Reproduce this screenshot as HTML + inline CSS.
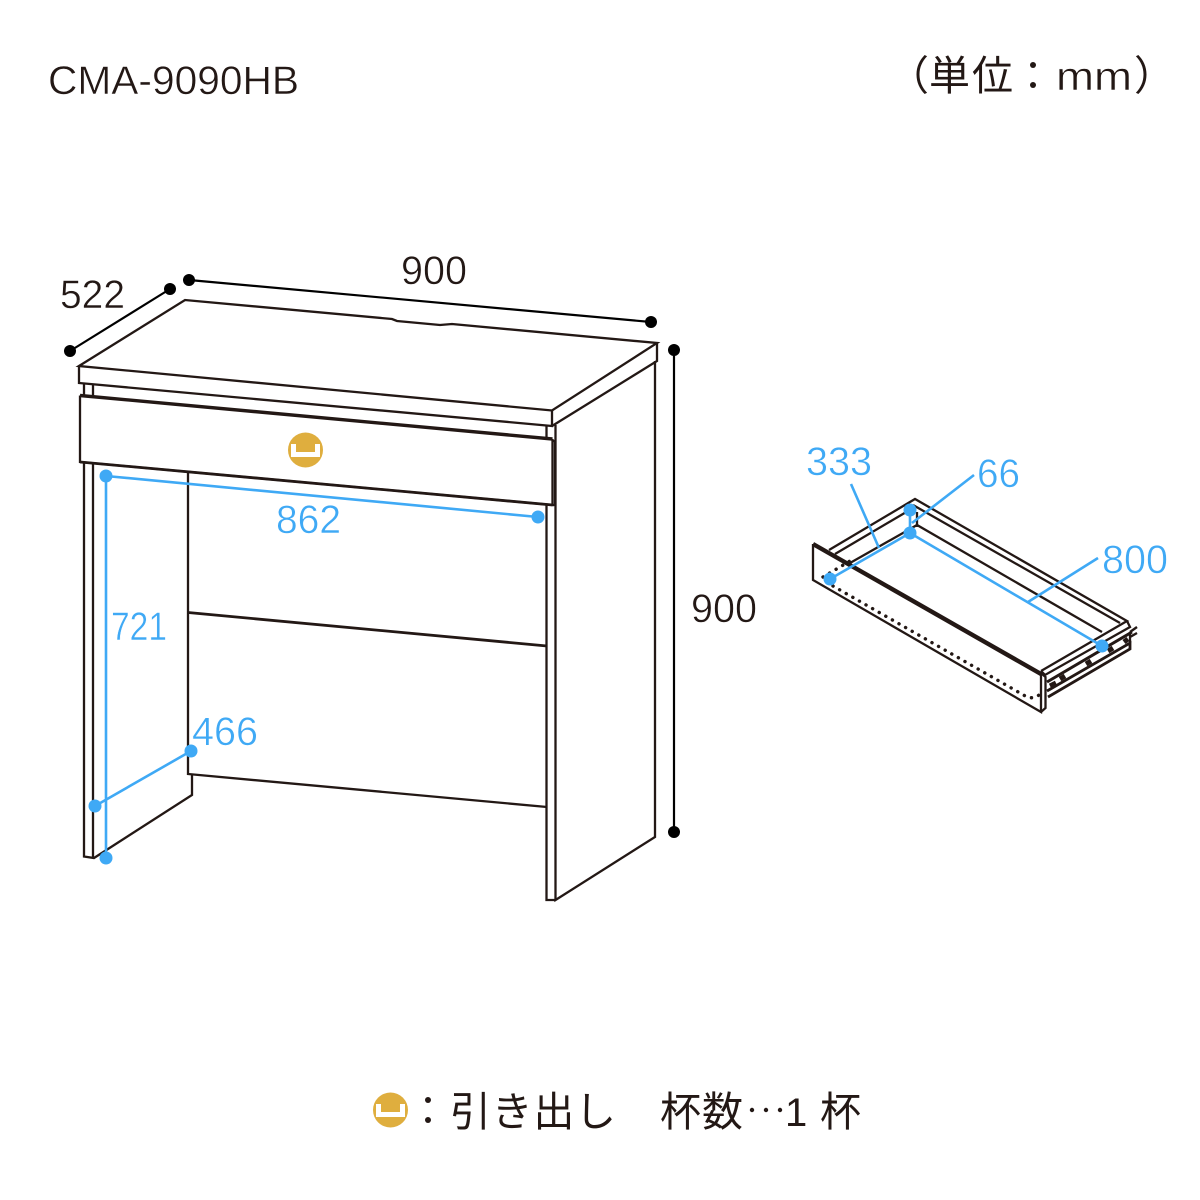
<!DOCTYPE html>
<html lang="ja"><head><meta charset="utf-8"><style>
html,body{margin:0;padding:0;background:#fff}
svg{display:block}
text{font-family:"Liberation Sans","Noto Sans CJK JP",sans-serif;font-size:40px;fill:#231815}
.n{stroke:#fff;stroke-width:.5px}
.b{fill:#3fa9f5;font-size:40px;stroke:#fff;stroke-width:.5px}
.j{font-size:41px}
.l{fill:none;stroke:#231815;stroke-width:2.300px;stroke-linejoin:miter}
.t{fill:none;stroke:#3fa9f5;stroke-width:2.600px}
</style></head><body>
<svg width="1200" height="1200" viewBox="0 0 1200 1200" xmlns="http://www.w3.org/2000/svg">
<rect width="1200" height="1200" fill="#fff"/>
<text class="n" x="48" y="94" textLength="251" lengthAdjust="spacingAndGlyphs">CMA-9090HB</text>
<text class="j" x="888" y="90">（</text>
<text class="j" x="929" y="90" textLength="84">単位</text>
<circle cx="1033" cy="65" r="3" fill="#231815"/><circle cx="1033" cy="85" r="3" fill="#231815"/>
<text class="n" x="1056" y="90" textLength="76" lengthAdjust="spacingAndGlyphs">mm</text>
<text class="j" x="1134" y="90">）</text>

<g class="l">
<path d="M79 366 L185 300 L392 319 L397 321 L440 325 L452 324 L657 343 L552 410.500 Z"/>
<path d="M79 366 V383 L552 426 V410.500"/>
<path d="M552 426 L657 361 V343"/>
<path d="M655 361 V837 L555.500 900 V425"/>
<path d="M546.500 426 V438 M546.500 505 V900 H555.500"/>
<path d="M84 383 V396 M93 385 V397"/>
<path d="M84 462 V856.500 L94 858 L192 795 V775"/>
<path d="M93 463 V858"/>
<path d="M188 473 V774 L547 807"/>
<path d="M80 395.500 V462 L552.500 505 V439"/>
<path d="M552.500 441 H555 V505 L552.500 505"/>
<path d="M80 395.500 L552.500 439" style="stroke-width:3.400px"/>
<path d="M80 462 L552.500 505" style="stroke-width:2.800px"/>
<path d="M188 612.500 L547 646" style="stroke-width:2.800px"/>
</g>

<path d="M70 351 L170 289 M189 280 L651 322 M674 350 V832" fill="none" stroke="#000" stroke-width="2.200"/>
<g fill="#000"><circle cx="70" cy="351" r="6"/><circle cx="170" cy="289" r="6"/><circle cx="189" cy="280" r="6"/><circle cx="651" cy="322" r="6"/><circle cx="674" cy="350" r="6"/><circle cx="674" cy="832" r="6"/></g>
<text class="n" x="60" y="308" textLength="65" lengthAdjust="spacingAndGlyphs">522</text>
<text class="n" x="401" y="284" textLength="66" lengthAdjust="spacingAndGlyphs">900</text>
<text class="n" x="691" y="622" textLength="66" lengthAdjust="spacingAndGlyphs">900</text>

<circle cx="305.500" cy="450" r="17.500" fill="#dfae3e"/>
<path d="M291 444 H296 V452 H315 V444 H320 V457 H291 Z" fill="#fff"/>

<g class="t"><path d="M106 476 L538 517 M106 476 V858 M95 806 L191 751"/></g>
<g fill="#3fa9f5"><circle cx="106" cy="476" r="6.500"/><circle cx="538" cy="517" r="6.500"/><circle cx="106" cy="858" r="6.500"/><circle cx="95" cy="806" r="6.500"/><circle cx="191" cy="751" r="6.500"/></g>
<text class="b" x="276" y="533" textLength="65" lengthAdjust="spacingAndGlyphs">862</text>
<text class="b" x="111" y="640" textLength="56" lengthAdjust="spacingAndGlyphs">721</text>
<text class="b" x="192" y="745" textLength="66" lengthAdjust="spacingAndGlyphs">466</text>

<!-- drawer -->
<g class="l">
<path d="M813 544 V580 L1041 712 V673"/>
<path d="M1041 712 L1045.500 708 V677 L1041 673"/>
<path d="M829 550 L915 499 L1127 621 L1041 671"/>
<path d="M835 554 L908 511 M913 505 L1120 623"/>
<path d="M850 563 L910 529 L917 525 L1102 632"/>
<path d="M917 512 V527"/>
<path d="M1127 621 L1130 627 L1045 675 L1041 671"/>
<path d="M1047 682 L1132 632" style="stroke-width:3px"/>
<path d="M1047 691 L1130 643 V649 L1048 697" style="stroke-width:2.800px"/>
<path d="M1130 632 L1137 627 M1130 637 L1137 633" style="stroke-width:2.400px"/>
<path d="M1130 632 V643"/>
</g>
<path d="M1050 686 L1056 683 M1060 679 L1065 676 M1086 664 L1091 661 M1108 651 L1113 648 M1124 642 L1128 639" fill="none" stroke="#231815" stroke-width="5"/>
<path d="M813 544 L1041 674" fill="none" stroke="#231815" stroke-width="4.400"/>
<path d="M823 577 L850 561 M833 586 L1027 697 Q1036 700 1043 691" fill="none" stroke="#231815" stroke-width="3.400" stroke-linecap="round" stroke-dasharray="0.100 7.500"/>
<g class="t"><path d="M830 579 L910 533 L1102 646 M910 510 V533 M851 484 L879 548 M974 475 L912 523 M1098 558 L1028 602"/></g>
<g fill="#3fa9f5"><circle cx="830" cy="579" r="6.500"/><circle cx="910" cy="533" r="6.500"/><circle cx="910" cy="510" r="6.500"/><circle cx="1102" cy="646" r="6.500"/></g>
<text class="b" x="806" y="475" textLength="66" lengthAdjust="spacingAndGlyphs">333</text>
<text class="b" x="977" y="487" textLength="43" lengthAdjust="spacingAndGlyphs">66</text>
<text class="b" x="1102" y="573" textLength="66" lengthAdjust="spacingAndGlyphs">800</text>

<!-- legend -->
<circle cx="390.500" cy="1110" r="17.500" fill="#dfae3e"/>
<path d="M376 1104 H381 V1112 H400 V1104 H405 V1117 H376 Z" fill="#fff"/>
<circle cx="428" cy="1100" r="3" fill="#231815"/><circle cx="428" cy="1120" r="3" fill="#231815"/>
<text class="j" x="450" y="1126" textLength="166">引き出し</text>
<text class="j" x="660" y="1126" textLength="83">杯数</text>
<circle cx="752" cy="1110" r="2.200" fill="#231815"/><circle cx="766" cy="1110" r="2.200" fill="#231815"/><circle cx="780" cy="1110" r="2.200" fill="#231815"/>
<text x="785" y="1126">1</text>
<text class="j" x="820" y="1126">杯</text>
</svg>
</body></html>
